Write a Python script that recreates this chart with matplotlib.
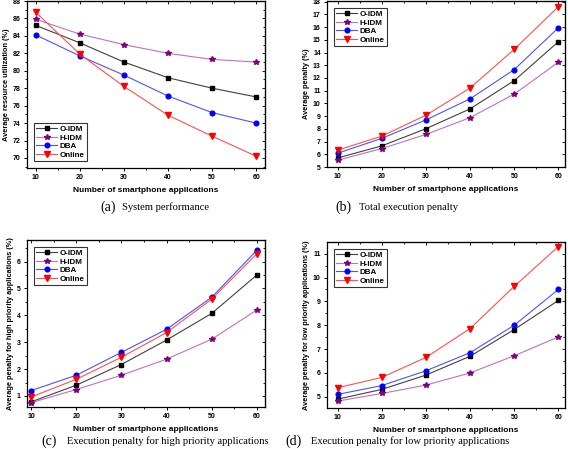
import matplotlib
matplotlib.use('Agg')
import matplotlib.pyplot as plt
from matplotlib.ticker import MultipleLocator, NullFormatter

apps = [10, 20, 30, 40, 50, 60]
names = ['O-IDM', 'H-IDM', 'DBA', 'Online']

# (a) average resource utilization
util_oidm = [85.2, 83.2, 81.0, 79.2, 78.0, 77.0]
util_hidm = [85.9, 84.2, 83.0, 82.0, 81.3, 81.0]
util_dba = [84.1, 81.7, 79.5, 77.1, 75.2, 74.0]
util_online = [86.7, 81.9, 78.2, 74.9, 72.5, 70.2]

# (b) total execution penalty
pen_oidm = [5.71, 6.66, 8.01, 9.57, 11.79, 14.85]
pen_hidm = [5.53, 6.45, 7.56, 8.88, 10.73, 13.24]
pen_dba = [6.08, 7.25, 8.70, 10.36, 12.66, 15.94]
pen_online = [6.32, 7.43, 9.07, 11.21, 14.25, 17.6]

# (c) high priority penalty
high_oidm = [0.78, 1.40, 2.17, 3.08, 4.07, 5.50]
high_hidm = [0.75, 1.24, 1.77, 2.37, 3.11, 4.20]
high_dba = [1.20, 1.77, 2.62, 3.48, 4.67, 6.42]
high_online = [0.96, 1.62, 2.44, 3.36, 4.60, 6.29]

# (d) low priority penalty
low_oidm = [4.90, 5.31, 5.91, 6.70, 7.82, 9.04]
low_hidm = [4.82, 5.14, 5.49, 6.00, 6.72, 7.51]
low_dba = [5.10, 5.47, 6.09, 6.85, 8.00, 9.50]
low_online = [5.38, 5.81, 6.65, 7.86, 9.63, 11.30]

line_cols = ['#404040', '#c070c0', '#5050ff', '#ff5050']
mark_cols = ['#000000', '#800080', '#0000ff', '#ff0000']
markers = ['s', '*', 'o', 'v']
msizes = [3.2, 4.2, 3.4, 3.8]

sans = 'Liberation Sans'
serif = 'Liberation Serif'
plt.rcParams['font.family'] = [sans, 'DejaVu Sans']

W, H = 568, 449
fig = plt.figure(figsize=(W / 100, H / 100), dpi=100)

def box(l, r, t, b):
    return [l / W, 1 - b / H, (r - l) / W, (b - t) / H]

panels = [
    (box(27, 265, 1, 168), [util_oidm, util_hidm, util_dba, util_online],
     (68.85, 88), 2, 1, 'Average resource utilization (%)', 'lower left', (8, 62)),
    (box(327, 565, 1, 167), [pen_oidm, pen_hidm, pen_dba, pen_online],
     (5, 18.05), 1, None, 'Average penalty (%)', 'upper left', (7.6, 61.5)),
    (box(27, 265, 240, 407), [high_oidm, high_hidm, high_dba, high_online],
     (0.59, 6.8), 1, 0.5, 'Average penalty for high priority applications (%)', 'upper left', (9.1, 61.8)),
    (box(327, 565, 242, 408), [low_oidm, low_hidm, low_dba, low_online],
     (4.53, 11.49), 1, 0.5, 'Average penalty for low priority applications (%)', 'upper left', (7.6, 61.5)),
]

for rect, series, ylim, ymaj, ymin, ylab, loc, xlim in panels:
    ax = fig.add_axes(rect)
    for k, vals in enumerate(series):
        ax.plot(apps, vals, color=line_cols[k], lw=0.8, marker=markers[k],
                ms=msizes[k], mfc=mark_cols[k], mec=mark_cols[k], label=names[k])
    ax.set_xlim(*xlim)
    ax.set_ylim(*ylim)
    ax.set_xticks(apps)
    ax.xaxis.set_minor_locator(MultipleLocator(5))
    ax.yaxis.set_major_locator(MultipleLocator(ymaj))
    if ymin:
        ax.yaxis.set_minor_locator(MultipleLocator(ymin))
    ax.tick_params(which='major', length=2.5, width=0.7, labelsize=5, pad=2)
    ax.tick_params(which='minor', length=1.5, width=0.6)
    for lab in ax.get_xticklabels() + ax.get_yticklabels():
        lab.set_fontweight('bold')
    for s in ax.spines.values():
        s.set_linewidth(0.9)

    # mirrored inward ticks on top and right
    sy = ax.secondary_yaxis('right')
    sy.yaxis.set_major_locator(MultipleLocator(ymaj))
    if ymin:
        sy.yaxis.set_minor_locator(MultipleLocator(ymin))
    sy.tick_params(which='both', direction='in', width=0.6)
    sy.tick_params(which='major', length=2.5)
    sy.tick_params(which='minor', length=1.5)
    sy.yaxis.set_major_formatter(NullFormatter())
    sx = ax.secondary_xaxis('top')
    sx.set_xticks(apps)
    sx.xaxis.set_minor_locator(MultipleLocator(5))
    sx.tick_params(which='both', direction='in', width=0.6)
    sx.tick_params(which='major', length=2.5)
    sx.tick_params(which='minor', length=1.5)
    sx.xaxis.set_major_formatter(NullFormatter())

    ax.set_xlabel('Number of smartphone applications', fontsize=6, fontweight='bold', labelpad=4)
    ax.set_ylabel(ylab, fontsize=5.3, fontweight='bold', labelpad=2)
    leg = ax.legend(loc=loc, prop={'weight': 'bold', 'size': 5.8},
                    frameon=True, fancybox=False, edgecolor='black',
                    handlelength=2.6, handletextpad=0.3, labelspacing=0.12,
                    borderpad=0.25, borderaxespad=0.9)
    leg.get_frame().set_linewidth(0.8)

fig.text(100 / W, 1 - 207 / H, '(a)', fontsize=10, family=serif, va='center')
fig.text(122 / W, 1 - 207 / H, 'System performance', fontsize=7.6, family=serif, va='center')
fig.text(335 / W, 1 - 207 / H, '(b)', fontsize=10, family=serif, va='center')
fig.text(359 / W, 1 - 207 / H, 'Total execution penalty', fontsize=7.6, family=serif, va='center')
fig.text(41 / W, 1 - 441 / H, '(c)', fontsize=10, family=serif, va='center')
fig.text(67 / W, 1 - 441 / H, 'Execution penalty for high priority applications', fontsize=7.6, family=serif, va='center')
fig.text(285 / W, 1 - 441 / H, '(d)', fontsize=10, family=serif, va='center')
fig.text(311 / W, 1 - 441 / H, 'Execution penalty for low priority applications', fontsize=7.6, family=serif, va='center')

fig.savefig('out.png', dpi=100)
